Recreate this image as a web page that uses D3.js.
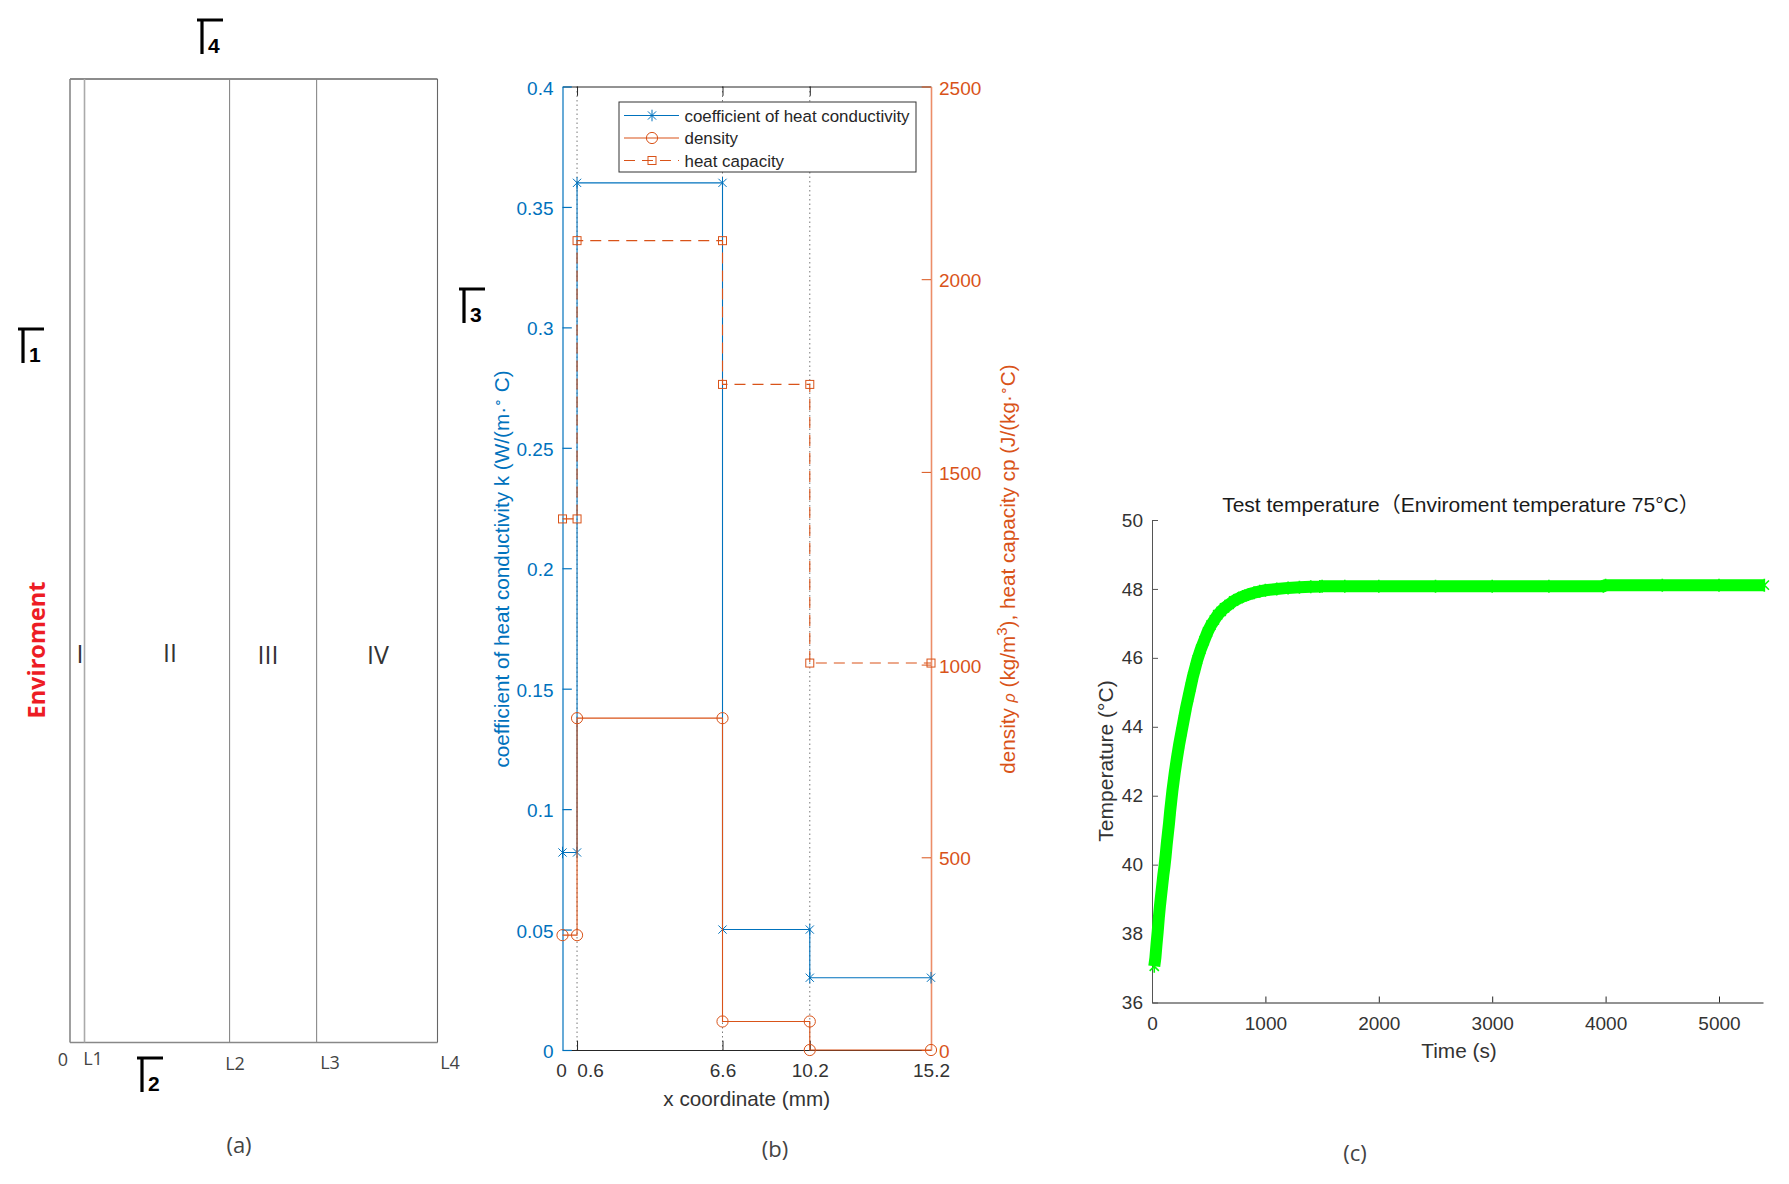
<!DOCTYPE html>
<html lang="en">
<head>
    <meta charset="UTF-8">
    <title>Chart</title>
    <script src="https://cdnjs.cloudflare.com/ajax/libs/d3/7.8.5/d3.min.js"></script>
    <style>
        html, body { margin: 0; padding: 0; background: #fff; }
        svg { display: block; }
        text { font-family: "Liberation Sans", "Noto Sans CJK SC", sans-serif; }
        .sketch text { font-family: "Open Sans", sans-serif; fill: #444; }
    </style>
</head>
<body>
<svg id="fig" width="1789" height="1184"></svg>

<script type="text/javascript">
    // layer boundaries (mm)
    const layerEdges = [0, 0.6, 6.6, 10.2, 15.2];
    const edgeLabels = ["0", "L1", "L2", "L3", "L4"];
    const layerNames = ["I", "II", "III", "IV"];

    // material properties, one value per layer
    const conductivity = [0.082, 0.36, 0.05, 0.03];
    const density = [298, 861, 74, 0];
    const heatCapacity = [1378, 2100, 1727, 1004];

    const leftTicks = [0, 0.05, 0.1, 0.15, 0.2, 0.25, 0.3, 0.35, 0.4];
    const rightTicks = [0, 500, 1000, 1500, 2000, 2500];

    // test temperature curve
    const timeSec = [20, 30, 40, 50, 60, 70, 80, 90, 100, 110, 120, 130, 140, 150, 160, 170, 180, 190, 200,
        220, 240, 260, 280, 300, 320, 340, 360, 380, 400, 430, 460, 490, 520, 550, 580, 610, 640, 680, 720,
        760, 800, 850, 900, 950, 1000, 1100, 1200, 1300, 1400, 1480, 1500, 1700, 2000, 2500, 3000, 3500,
        3980, 4000, 4500, 5000, 5400];
    const tempC = [37.05, 37.3, 37.7, 38.05, 38.45, 38.8, 39.1, 39.4, 39.7, 39.95, 40.25, 40.6, 40.9, 41.2,
        41.55, 41.85, 42.15, 42.4, 42.65, 43.1, 43.5, 43.85, 44.2, 44.55, 44.85, 45.15, 45.45, 45.7, 45.95,
        46.25, 46.5, 46.75, 46.95, 47.1, 47.25, 47.35, 47.45, 47.55, 47.65, 47.72, 47.78, 47.84, 47.89,
        47.93, 47.96, 48.0, 48.03, 48.05, 48.06, 48.07, 48.08, 48.08, 48.08, 48.08, 48.08, 48.08, 48.08,
        48.11, 48.11, 48.11, 48.11];
    const timeTicks = [0, 1000, 2000, 3000, 4000, 5000];
    const tempTicks = [36, 38, 40, 42, 44, 46, 48, 50];

    const blue = "#0072BD";
    const orange = "#D95319";
    const svg = d3.select("#fig");

    drawSketch();
    drawProperties();
    drawTemperature();

    // Small helper for the black boundary symbols
    function gamma(g, x, y, digit) {
        g.append("line").attr("x1", x).attr("x2", x + 26).attr("y1", y).attr("y2", y)
            .attr("stroke", "#000").attr("stroke-width", 3);
        g.append("line").attr("x1", x + 5).attr("x2", x + 5).attr("y1", y).attr("y2", y + 34)
            .attr("stroke", "#000").attr("stroke-width", 3.2);
        g.append("text").attr("x", x + 11).attr("y", y + 33).text(digit)
            .style("font-family", "'Liberation Sans Narrow', 'Liberation Sans'")
            .style("fill", "#000").style("font-weight", "bold").style("font-size", "21px");
    }

    // (a)
    function drawSketch() {
        const x = d3.scaleLinear().domain([0, 15.2]).range([70, 437.5]);
        const g = svg.append("g").attr("class", "sketch");
        const top = 79, bottom = 1042.5;

        g.append("line").attr("x1", 70).attr("x2", 437.5).attr("y1", top).attr("y2", top)
            .attr("stroke", "#666").attr("stroke-width", 1.3);
        g.append("line").attr("x1", 70).attr("x2", 437.5).attr("y1", bottom).attr("y2", bottom)
            .attr("stroke", "#888").attr("stroke-width", 1.5);

        const edgeColor = ["#888", "#aaa", "#888", "#888", "#666"];
        const edgeWidth = [1.6, 1.6, 1.1, 1.1, 1.1];
        g.selectAll(".edge").data(layerEdges).enter().append("line")
            .attr("class", "edge")
            .attr("x1", d => x(d)).attr("x2", d => x(d))
            .attr("y1", top).attr("y2", bottom)
            .attr("stroke", (d, i) => edgeColor[i])
            .attr("stroke-width", (d, i) => edgeWidth[i]);

        // the labels sit a bit off their lines in the original
        const labelX = [63, 93, 235, 330, 450];
        const labelY = [1066, 1065, 1070, 1069, 1069];
        g.selectAll(".edgeLabel").data(edgeLabels).enter().append("text")
            .attr("x", (d, i) => labelX[i]).attr("y", (d, i) => labelY[i])
            .attr("text-anchor", "middle").style("font-size", "18px").text(d => d);

        const nameX = [80, 170, 268, 378];
        const nameY = [663, 662, 664, 664];
        g.selectAll(".layerName").data(layerNames).enter().append("text")
            .attr("x", (d, i) => nameX[i]).attr("y", (d, i) => nameY[i])
            .attr("text-anchor", "middle").style("font-size", "25px").style("fill", "#333").text(d => d);

        g.append("text").attr("transform", "translate(45,650) rotate(-90)")
            .attr("text-anchor", "middle").style("font-size", "23.5px").style("font-weight", "bold")
            .style("fill", "#ED1C24").text("Enviroment");

        gamma(g, 18, 329, "1");
        gamma(g, 137, 1058, "2");
        gamma(g, 459, 289, "3");
        gamma(g, 197, 20, "4");

        g.append("text").attr("x", 239).attr("y", 1153).attr("text-anchor", "middle")
            .style("font-size", "22px").text("(a)");
        g.append("text").attr("x", 775).attr("y", 1157).attr("text-anchor", "middle")
            .style("font-size", "22px").text("(b)");
        g.append("text").attr("x", 1355).attr("y", 1161).attr("text-anchor", "middle")
            .style("font-size", "22px").text("(c)");
    }

    function asterisk(sel, r) {
        const d = r * Math.SQRT1_2;
        sel.attr("d", `M0,${-r}V${r}M${-d},${-d}L${d},${d}M${-d},${d}L${d},${-d}`);
    }

    // (b)
    function drawProperties() {
        const left = 562.5, right = 931, top = 86.5, bottom = 1050;
        const x = d3.scaleLinear().domain([0, 15.2]).range([left, right]);
        const yK = d3.scaleLinear().domain([0, 0.4]).range([bottom, top]);
        const yR = d3.scaleLinear().domain([0, 2500]).range([bottom, top]);
        const g = svg.append("g");

        // dotted guides at the inner boundaries
        g.selectAll(".guide").data(layerEdges.slice(1, 4)).enter().append("line")
            .attr("x1", d => x(d)).attr("x2", d => x(d))
            .attr("y1", top).attr("y2", bottom)
            .attr("stroke", "#555").attr("stroke-width", 0.8).attr("stroke-dasharray", "1.5 3");

        const bottomAxis = g.append("g").attr("transform", `translate(0,${bottom})`)
            .call(d3.axisBottom(x).tickValues(layerEdges).tickSizeInner(-9.3).tickSizeOuter(0).tickPadding(14)
                .tickFormat(d3.format("")));
        const topAxis = g.append("g").attr("transform", `translate(0,${top})`)
            .call(d3.axisTop(x).tickValues(layerEdges.slice(1, 4)).tickSizeInner(-9.3).tickSizeOuter(0).tickFormat(""));
        [bottomAxis, topAxis].forEach(a => {
            a.selectAll("path, line").attr("stroke", "#262626").attr("stroke-width", 1);
            a.selectAll("text").attr("fill", "#333").style("font-size", "19px");
        });
        bottomAxis.selectAll(".tick").filter(d => d === 0 || d === 15.2).select("line").remove();
        // "0.6" is moved aside so it does not run into "0"
        bottomAxis.selectAll(".tick").filter(d => d === 0.6).select("text").attr("x", 13);
        bottomAxis.selectAll(".tick").filter(d => d === 0).select("text").attr("x", -1.5);

        g.append("g").attr("transform", `translate(${left},0)`)
            .call(d3.axisLeft(yK).tickValues(leftTicks).tickSizeInner(-9.3).tickSizeOuter(0).tickPadding(9)
                .tickFormat(d3.format("")))
            .call(a => {
                a.selectAll("path, line").attr("stroke", blue).attr("stroke-width", 1.2);
                a.selectAll("text").attr("fill", blue).attr("dy", "0.4em").style("font-size", "19px");
            });
        g.append("g").attr("transform", `translate(${right},0)`)
            .call(d3.axisRight(yR).tickValues(rightTicks).tickSizeInner(-9.3).tickSizeOuter(0).tickPadding(8)
                .tickFormat(d3.format("")))
            .call(a => {
                a.selectAll("line").attr("stroke", orange).attr("stroke-width", 1);
                a.selectAll("path").attr("stroke", "#EC8D68").attr("stroke-width", 1.6);
                a.selectAll("text").attr("fill", orange).attr("dy", "0.4em").style("font-size", "19px");
            });

        // each layer value turns into two points of a step line
        function steps(values) {
            const pts = [];
            values.forEach((v, i) => {
                pts.push([layerEdges[i], v]);
                pts.push([layerEdges[i + 1], v]);
            });
            return pts;
        }

        const series = [
            {name: "coefficient of heat conductivity", values: conductivity, y: yK, color: blue, marker: "star", dash: null},
            {name: "density", values: density, y: yR, color: orange, marker: "circle", dash: null},
            {name: "heat capacity", values: heatCapacity, y: yR, color: orange, marker: "square", dash: "11 7"}
        ];

        function marker(sel, type, color) {
            if (type === "star") {
                sel.append("path").call(asterisk, 5.8).attr("fill", "none").attr("stroke", color);
            } else if (type === "circle") {
                sel.append("circle").attr("r", 5.6).attr("fill", "none").attr("stroke", color);
            } else {
                sel.append("rect").attr("x", -4).attr("y", -4).attr("width", 8).attr("height", 8)
                    .attr("fill", "none").attr("stroke", color);
            }
        }

        series.forEach(s => {
            const pts = steps(s.values);
            const line = d3.line().x(d => x(d[0])).y(d => s.y(d[1]));
            g.append("path").attr("d", line(pts)).attr("fill", "none")
                .attr("stroke", s.color).attr("stroke-width", 1.1)
                .attr("stroke-dasharray", s.dash);
            g.selectAll(null).data(pts).enter().append("g")
                .attr("transform", d => `translate(${x(d[0])},${s.y(d[1])})`)
                .each(function() { marker(d3.select(this), s.marker, s.color); });
        });

        // legend
        const legend = g.append("g").attr("transform", "translate(619,102)");
        legend.append("rect").attr("width", 297).attr("height", 70)
            .attr("fill", "#fff").attr("stroke", "#333").attr("stroke-width", 1);
        series.forEach((s, i) => {
            const row = legend.append("g").attr("transform", `translate(0,${13.5 + i * 22.5})`);
            row.append("line").attr("x1", 5).attr("x2", 60).attr("stroke", s.color)
                .attr("stroke-width", 1.1).attr("stroke-dasharray", s.dash);
            row.append("g").attr("transform", "translate(33,0)")
                .call(sel => marker(sel, s.marker, s.color));
            row.append("text").attr("x", 65.5).attr("dy", "0.38em").style("font-size", "16.9px")
                .attr("fill", "#262626").text(s.name);
        });

        // axis titles
        g.append("text").attr("x", 746.7).attr("y", 1106).attr("text-anchor", "middle")
            .attr("fill", "#333").style("font-size", "20.7px").text("x coordinate (mm)");

        const kLabel = g.append("text").attr("transform", "translate(509,569) rotate(-90)")
            .attr("text-anchor", "middle").attr("fill", blue).style("font-size", "20.7px");
        kLabel.append("tspan").text("coefficient of heat conductivity k (W/(m\u00B7");
        kLabel.append("tspan").attr("dy", -7).style("font-size", "14px").text("\u2218");
        kLabel.append("tspan").attr("dy", 7).text(" C)");

        const rLabel = g.append("text").attr("transform", "translate(1015,569) rotate(-90)")
            .attr("text-anchor", "middle").attr("fill", orange).style("font-size", "20.7px");
        rLabel.append("tspan").text("density ");
        rLabel.append("tspan").style("font-style", "italic").style("font-size", "16px").text("\u03C1");
        rLabel.append("tspan").text(" (kg/m");
        rLabel.append("tspan").attr("dy", -8).style("font-size", "15px").text("3");
        rLabel.append("tspan").attr("dy", 8).text("), heat capacity cp (J/(kg\u00B7");
        rLabel.append("tspan").attr("dy", -7).style("font-size", "14px").text("\u2218");
        rLabel.append("tspan").attr("dy", 7).text("C)");
    }

    // (c)
    function drawTemperature() {
        const left = 1152, right = 1763, top = 520, bottom = 1002.5;
        const x = d3.scaleLinear().domain([0, 5388]).range([left, right]);
        const y = d3.scaleLinear().domain([36, 50]).range([bottom, top]);
        const g = svg.append("g");

        const ax = g.append("g").attr("transform", `translate(0,${bottom})`)
            .call(d3.axisBottom(x).tickValues(timeTicks).tickSizeInner(-6).tickSizeOuter(0).tickPadding(14)
                .tickFormat(d3.format("")));
        ax.selectAll("path, line").attr("stroke", "#262626");
        ax.selectAll("text").attr("fill", "#333").style("font-size", "19px");

        const ay = g.append("g").attr("transform", `translate(${left},0)`)
            .call(d3.axisLeft(y).tickValues(tempTicks).tickSizeInner(-6).tickSizeOuter(0).tickPadding(9));
        ay.selectAll("path, line").attr("stroke", "#555");
        ay.selectAll("text").attr("fill", "#333").style("font-size", "19px");

        const pts = d3.zip(timeSec, tempC);
        g.append("path")
            .attr("d", d3.line().x(d => x(d[0])).y(d => y(d[1]))(pts))
            .attr("fill", "none").attr("stroke", "#00FF00").attr("stroke-width", 12);
        g.selectAll(".star").data(pts).enter().append("path").attr("class", "star")
            .attr("transform", d => `translate(${x(d[0])},${y(d[1])})`)
            .call(asterisk, 6.5).attr("fill", "none").attr("stroke", "#00FF00").attr("stroke-width", 1.6);

        g.append("text").attr("x", 1461).attr("y", 512).attr("text-anchor", "middle")
            .attr("fill", "#1a1a1a").style("font-size", "21px")
            .text("Test temperature\uFF08Enviroment temperature 75\u00B0C\uFF09");
        g.append("text").attr("x", 1459).attr("y", 1058).attr("text-anchor", "middle")
            .attr("fill", "#333").style("font-size", "20.8px").text("Time (s)");
        g.append("text").attr("transform", "translate(1113,761) rotate(-90)").attr("text-anchor", "middle")
            .attr("fill", "#333").style("font-size", "21px").text("Temperature (\u00B0C)");
    }
</script>

</body>
</html>
